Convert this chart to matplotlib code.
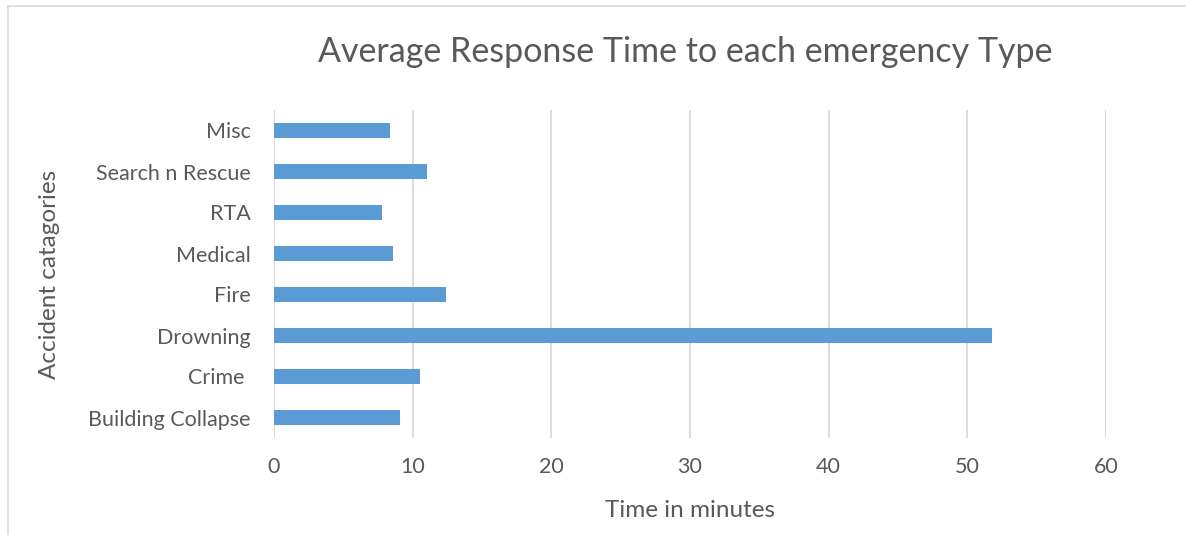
import matplotlib
matplotlib.use("Agg")
from matplotlib import pyplot as plt, patches

categories = ["Building Collapse", "Crime ", "Drowning", "Fire", "Medical", "RTA", "Search n Rescue", "Misc"]
minutes = [9.1, 10.5, 51.8, 12.4, 8.6, 7.8, 11.0, 8.4]
xticks = [0, 10, 20, 30, 40, 50, 60]

plt.rcParams['font.family'] = ['Lato', 'DejaVu Sans']
text_col = '#595959'

fig = plt.figure(figsize=(11.86, 5.35), dpi=100)
ax = fig.add_axes([274 / 1186, 1 - 438 / 535, (1106 - 274) / 1186, 328 / 535])

ax.barh(range(len(categories)), minutes, height=0.39, color='#5B9BD5', zorder=3)

ax.set_xlim(0, 60)
ax.set_ylim(-0.5, len(categories) - 0.5)
ax.set_xticks(xticks)
ax.set_yticks(range(len(categories)))
ax.set_yticklabels(categories)
ax.tick_params(axis='both', length=0, labelsize=15.5, colors=text_col)
ax.tick_params(axis='x', pad=14)
ax.tick_params(axis='y', pad=17)
ax.grid(True, axis='x', color='#D9D9D9', linewidth=1.3, zorder=0)
for s in ax.spines.values():
  s.set_visible(False)

ax.set_xlabel("Time in minutes", fontsize=17.5, color=text_col, labelpad=16)
ax.set_ylabel("Accident catagories", fontsize=17.5, color=text_col, labelpad=20)
fig.text(685 / 1186, 1 - 52 / 535, "Average Response Time to each emergency Type",
         ha='center', va='center', fontsize=24.5, color=text_col)

# light chart border
fig.patches.append(patches.Rectangle((8 / 1186, -0.01), 1.02, 1 - 6 / 535 + 0.01,
                   transform=fig.transFigure, fill=False, edgecolor='#D9D9D9', linewidth=1.2))

fig.savefig("out.png", dpi=100)
